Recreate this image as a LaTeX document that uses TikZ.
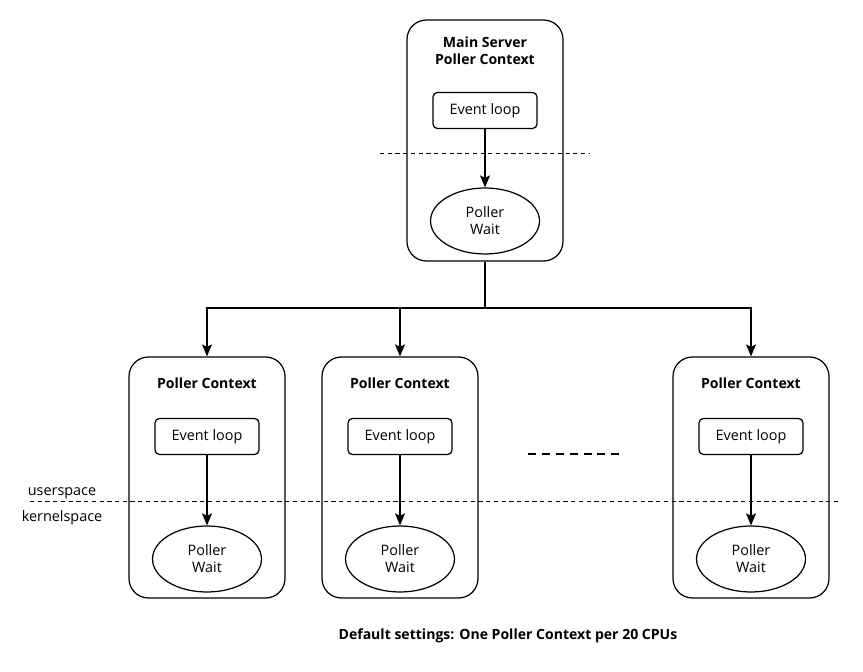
\documentclass[tikz,border=0pt]{standalone}
\usepackage{fontspec}
\setmainfont{Open Sans}
\usetikzlibrary{arrows.meta, positioning, shapes.geometric}
\tikzset{
  every picture/.style={line width=0.7pt, font=\fontsize{8.2}{9.6}\selectfont},
  ctx/.style={draw, rounded corners=11pt, minimum width=3.12cm, minimum height=4.82cm},
  loopbox/.style={draw, rounded corners=2.5pt, minimum width=2.08cm, minimum height=0.72cm},
  wait/.style={draw, ellipse, minimum width=2.18cm, minimum height=1.32cm, align=center, inner sep=0pt},
  title/.style={font=\fontsize{8}{9.6}\selectfont\bfseries, align=center},
  arrow/.style={-{Stealth[length=2.4mm, width=2mm, inset=0.5mm]}},
  split/.style={dash pattern=on 2.4pt off 2pt, line width=0.55pt},
  more/.style={dash pattern=on 4.6pt off 3.3pt, line width=1.4pt},
}

\begin{document}
\begin{tikzpicture}[x=0.02cm, y=-0.02cm]
  \useasboundingbox (0,0) rectangle (863,672);
  % main server
  \node[ctx] (main) at (485,140.5) {};
  \node[title] (mainT) at (485,51) {Main Server\\Poller Context};
  \node[loopbox] (mainL) at (485,110.5) {Event loop};
  \node[wait] (mainW) at (485,221) {Poller\\Wait};
  \draw[arrow] (mainL) -- (mainW);
  \draw[split] (380,153) -- (590,153);
  % fan out to the poller contexts
  \coordinate (fan) at (485,308);
  \draw (main) -- (fan);
  \foreach \x/\n in {207/a, 400/b, 751/c} {
    \node[ctx] (ctx\n) at (\x,477.5) {};
    \node[title] (title\n) at (\x,383) {Poller Context};
    \node[loopbox] (loop\n) at (\x,436.5) {Event loop};
    \node[wait] (wait\n) at (\x,559) {Poller\\Wait};
    \draw[arrow] (loop\n) -- (wait\n);
    \draw[arrow] (fan) -| (ctx\n);
  }
  \draw[more] (528,454) -- (622,454);
  % userspace / kernelspace
  \draw[split] (30,501) -- (840,501);
  \node (user) at (62,493) {userspace};
  \node (kernel) at (62,518) {kernelspace};
  \node[title] (note) at (508,636) {Default settings: One Poller Context per 20 CPUs};
\end{tikzpicture}
\end{document}
